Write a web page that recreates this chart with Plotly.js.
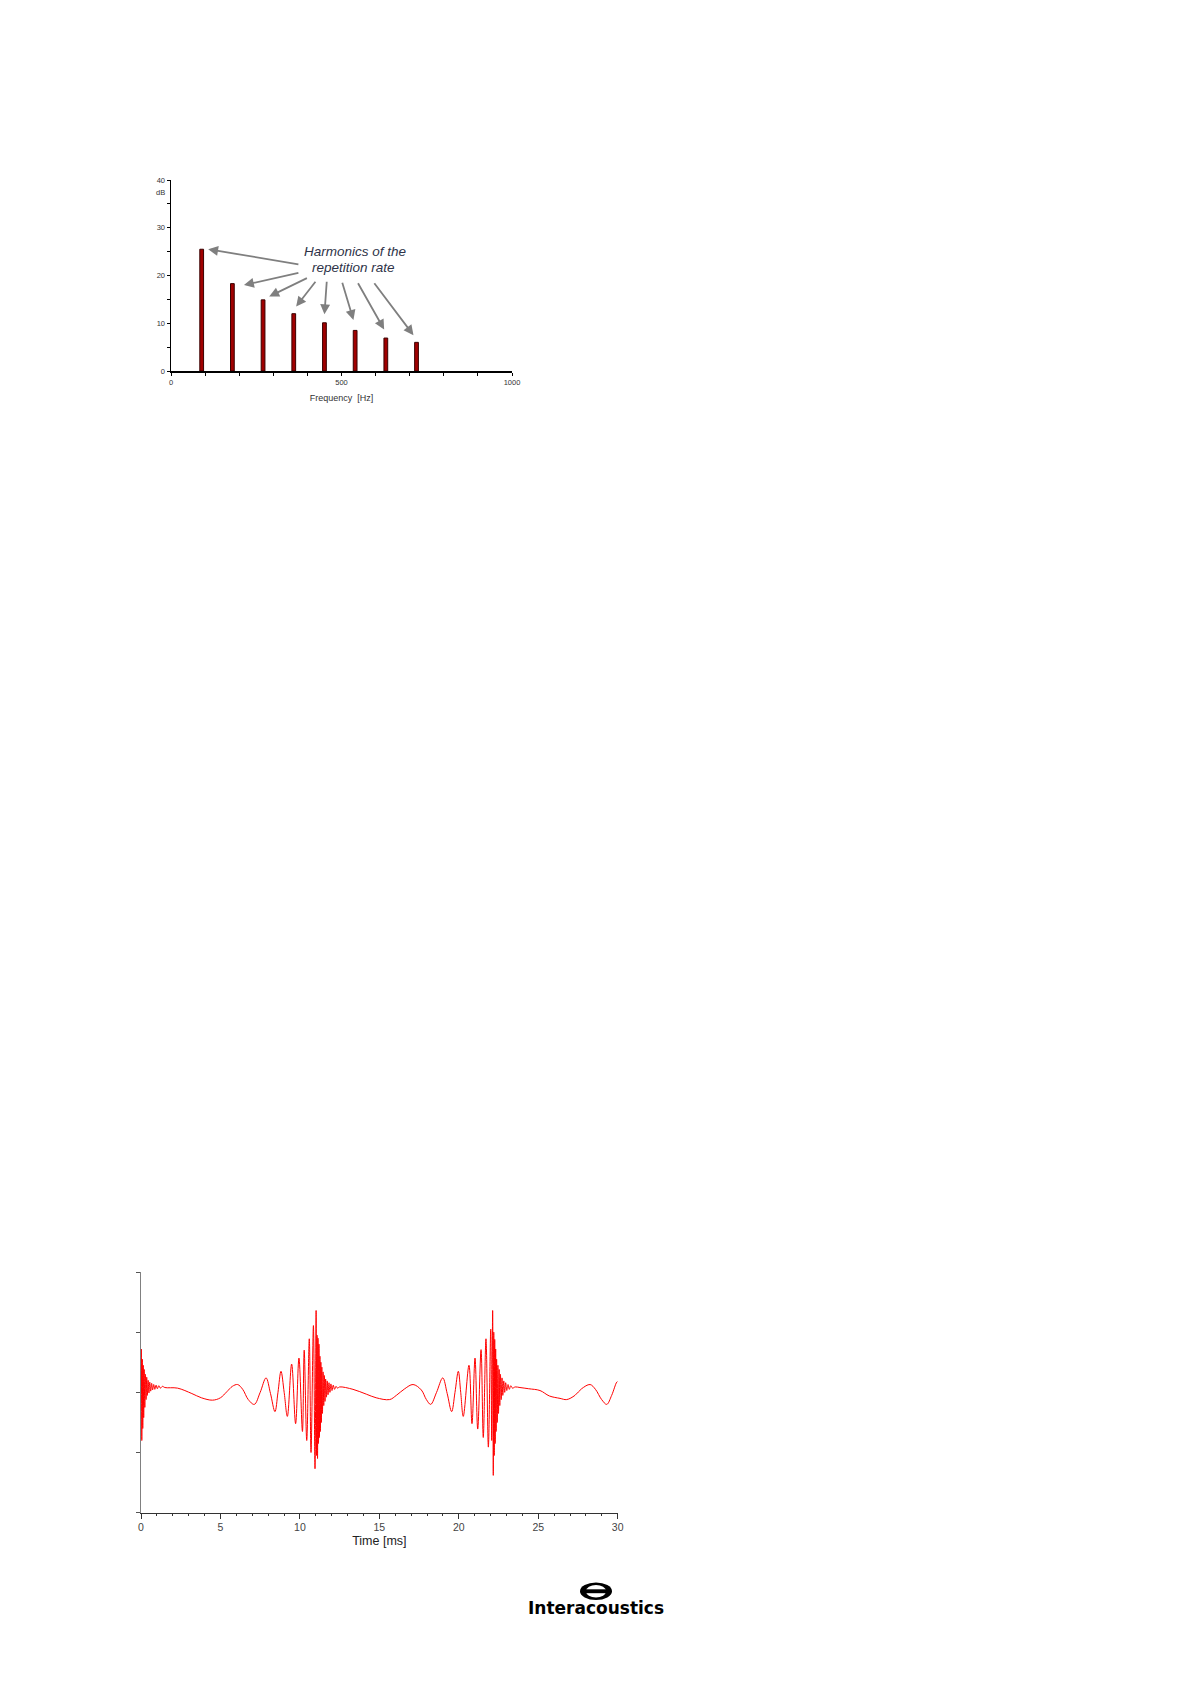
<!DOCTYPE html>
<html>
<head>
<meta charset="utf-8">
<script src="https://cdn.plot.ly/plotly-3.0.1.min.js"></script>
<style>html,body{margin:0;padding:0;background:#fff;}#chart{width:1191px;height:1684px;}</style>
</head>
<body>
<div id="chart"></div>
<script>
// ---- Spectrum (top chart) ----
const harmonicFreqHz = [90, 180, 270, 360, 450, 540, 630, 720];
const harmonicLevelDb = [25.5, 18.3, 14.9, 12.0, 10.1, 8.5, 6.9, 6.0];
const spectrumXTicks = [0, 500, 1000];
const spectrumYTicks = [0, 10, 20, 30, 40];
const annotationLines = ["Harmonics of the", "repetition rate"];

// ---- Waveform (bottom chart): time [ms] and amplitude ----
const timeMs = [
  0.00,0.02,0.05,0.08,0.11,0.14,0.17,0.20,0.24,0.28,0.32,0.36,0.40,0.45,0.50,0.55,0.61,0.67,0.73,0.80,0.87,0.95,1.03,1.12,1.22,1.35,1.50,
  2.30,3.20,3.80,4.50,5.00,5.40,5.75,6.08,6.40,6.75,7.13,7.50,7.87,8.15,8.43,8.62,8.81,9.01,9.21,9.48,9.73,9.94,10.16,10.27,10.43,10.59,10.70,10.85,10.95,11.02,
  11.05,11.08,11.11,11.14,11.17,11.20,11.23,11.26,11.29,11.32,11.35,11.38,11.42,11.46,11.50,11.54,11.58,11.62,11.67,11.72,11.77,11.83,11.89,11.95,12.02,12.10,12.18,12.27,12.37,12.50,
  13.34,14.18,14.80,15.65,16.07,16.60,17.12,17.64,17.96,18.23,18.60,18.99,19.27,19.55,19.76,19.97,20.12,20.28,20.64,20.83,21.02,21.19,21.40,21.54,21.71,21.86,22.01,22.07,22.13,22.17,
  22.20,22.23,22.26,22.29,22.32,22.35,22.38,22.42,22.46,22.50,22.54,22.58,22.62,22.67,22.72,22.77,22.83,22.89,22.95,23.02,23.10,23.18,23.27,23.38,23.55,
  23.85,24.40,25.11,25.70,26.37,26.79,27.31,27.73,28.26,28.60,28.99,29.31,29.62,29.94,30.00
];
const amplitude = [
  0.00,0.72,-0.80,0.55,-0.60,0.45,-0.42,0.38,-0.25,0.30,-0.12,0.25,-0.05,0.20,-0.01,0.17,0.02,0.15,0.04,0.13,0.05,0.12,0.06,0.11,0.07,0.10,0.08,
  0.07,-0.02,-0.09,-0.13,-0.09,0.01,0.10,0.13,0.05,-0.12,-0.20,0.00,0.24,-0.02,-0.32,0.00,0.35,0.00,-0.40,0.47,-0.52,0.57,-0.65,0.70,-0.80,0.89,-1.00,1.11,-1.27,1.36,
  -1.05,0.95,-1.10,0.90,-0.85,0.80,-0.75,0.60,-0.65,0.50,-0.50,0.42,-0.35,0.34,-0.22,0.28,-0.15,0.22,-0.08,0.19,-0.04,0.16,0.00,0.14,0.03,0.12,0.05,0.10,0.07,0.09,
  0.05,-0.03,-0.09,-0.12,-0.05,0.06,0.13,0.04,-0.12,-0.20,0.00,0.24,-0.02,-0.32,0.00,0.35,0.00,-0.40,0.45,-0.52,0.57,-0.61,0.71,-0.75,0.89,-0.91,1.05,-0.80,1.36,-1.38,
  1.00,-1.05,0.88,-0.85,0.72,-0.65,0.55,-0.50,0.45,-0.35,0.38,-0.22,0.30,-0.12,0.24,-0.05,0.19,0.00,0.16,0.03,0.13,0.05,0.11,0.07,0.09,
  0.08,0.06,0.03,-0.06,-0.10,-0.12,-0.05,0.06,0.13,0.05,-0.12,-0.20,-0.05,0.17,0.18
];
const timeTicks = [0, 5, 10, 15, 20, 25, 30];
const amplitudeTicks = [-2, -1, 0, 1, 2];

// ---- Arrow annotation geometry (layout, not data) ----
const arrowHeads = [[109,25.5],[214,18.0],[288,15.6],[367,13.5],[450,11.9],[535,10.7],[625,8.7],[711,7.5]];
const arrowTails = [[378,22.3],[378,20.6],[403,19.6],[427,19.0],[457,19.0],[501,18.8],[546,18.7],[593,18.7]];

const W = 1191, H = 1684;
const px = v => v / W;
const py = v => 1 - v / H;
const FONT = "Liberation Sans, Arial, sans-serif";

const traces = [
  {
    type: 'bar', x: harmonicFreqHz, y: harmonicLevelDb, width: 11,
    marker: {color: '#a00000', line: {color: '#3a0000', width: 1}},
    xaxis: 'x', yaxis: 'y', hoverinfo: 'skip'
  },
  {
    type: 'scatter', mode: 'lines', x: timeMs, y: amplitude,
    line: {color: '#ff0000', width: 1, shape: 'spline', smoothing: 1},
    xaxis: 'x2', yaxis: 'y2', hoverinfo: 'skip'
  }
];

const annotations = [];
arrowHeads.forEach((h, i) => {
  annotations.push({
    x: h[0], y: h[1], ax: arrowTails[i][0], ay: arrowTails[i][1],
    xref: 'x', yref: 'y', axref: 'x', ayref: 'y',
    text: '', showarrow: true, arrowhead: 2, arrowsize: 1.1, arrowwidth: 1.8,
    arrowcolor: '#7f7f7f'
  });
});
annotations.push({
  xref: 'x', yref: 'y', x: 540, y: 25.1, showarrow: false,
  text: '<i>' + annotationLines[0] + '</i>',
  font: {family: FONT, size: 13.5, color: '#2e3348'}
});
annotations.push({
  xref: 'x', yref: 'y', x: 534, y: 21.6, showarrow: false,
  text: '<i>' + annotationLines[1] + '</i>',
  font: {family: FONT, size: 13.5, color: '#2e3348'}
});
annotations.push({
  xref: 'paper', yref: 'paper', x: px(167), y: py(192), xanchor: 'right', yanchor: 'middle',
  showarrow: false, text: 'dB', font: {family: FONT, size: 7.5, color: '#333'}
});
annotations.push({
  xref: 'paper', yref: 'paper', x: px(596), y: py(1608), xanchor: 'center', yanchor: 'middle',
  showarrow: false, text: '<b>Interacoustics</b>',
  font: {family: 'DejaVu Sans, sans-serif', size: 17, color: '#000'}
});

const shapes = [
  {type: 'circle', xref: 'paper', yref: 'paper', x0: px(580), x1: px(612), y0: py(1600), y1: py(1582.5), fillcolor: '#000', line: {width: 0}},
  {type: 'circle', xref: 'paper', yref: 'paper', x0: px(586), x1: px(606), y0: py(1597.5), y1: py(1585), fillcolor: '#fff', line: {width: 0}},
  {type: 'rect', xref: 'paper', yref: 'paper', x0: px(581.5), x1: px(610.5), y0: py(1593.2), y1: py(1589.3), fillcolor: '#000', line: {width: 0}}
];

const layout = {
  width: W, height: H,
  margin: {l: 0, r: 0, t: 0, b: 0},
  paper_bgcolor: '#fff', plot_bgcolor: 'rgba(0,0,0,0)',
  showlegend: false, bargap: 0,
  xaxis: {
    domain: [px(171), px(512)], range: [0, 1000], anchor: 'y',
    tickvals: spectrumXTicks, ticks: 'outside', ticklen: 3, tickcolor: '#000',
    minor: {dtick: 100, tick0: 0, ticks: 'outside', ticklen: 3, tickcolor: '#000'},
    showline: true, linecolor: '#000', linewidth: 1.5, showgrid: false, zeroline: false,
    tickfont: {family: FONT, size: 7.5, color: '#333'},
    title: {text: 'Frequency  [Hz]', font: {family: FONT, size: 9, color: '#333'}, standoff: 9}
  },
  yaxis: {
    domain: [py(371), py(180)], range: [0, 40], anchor: 'x',
    tickvals: spectrumYTicks, ticks: 'outside', ticklen: 3, tickcolor: '#000',
    minor: {dtick: 5, tick0: 0, ticks: 'outside', ticklen: 3, tickcolor: '#000'},
    showline: true, linecolor: '#000', linewidth: 1.5, showgrid: false, zeroline: false,
    tickfont: {family: FONT, size: 7.5, color: '#333'}
  },
  xaxis2: {
    domain: [px(141), px(617.7)], range: [0, 30], anchor: 'y2',
    tickvals: timeTicks, ticks: 'outside', ticklen: 5, tickcolor: '#333',
    minor: {dtick: 1, tick0: 0, ticks: 'outside', ticklen: 2, tickcolor: '#333'},
    showline: true, linecolor: '#333', linewidth: 1, showgrid: false, zeroline: false,
    tickfont: {family: FONT, size: 10.5, color: '#444'},
    title: {text: 'Time [ms]', font: {family: FONT, size: 12.5, color: '#222'}, standoff: 3}
  },
  yaxis2: {
    domain: [py(1512.7), py(1272)], range: [-2, 2], anchor: 'x2',
    tickvals: amplitudeTicks, showticklabels: false, ticks: 'outside', ticklen: 4, tickcolor: '#555',
    showline: true, linecolor: '#808080', linewidth: 1.5, showgrid: false, zeroline: false
  },
  annotations: annotations,
  shapes: shapes
};

Plotly.newPlot('chart', traces, layout, {displayModeBar: false, staticPlot: true});
</script>
</body>
</html>
